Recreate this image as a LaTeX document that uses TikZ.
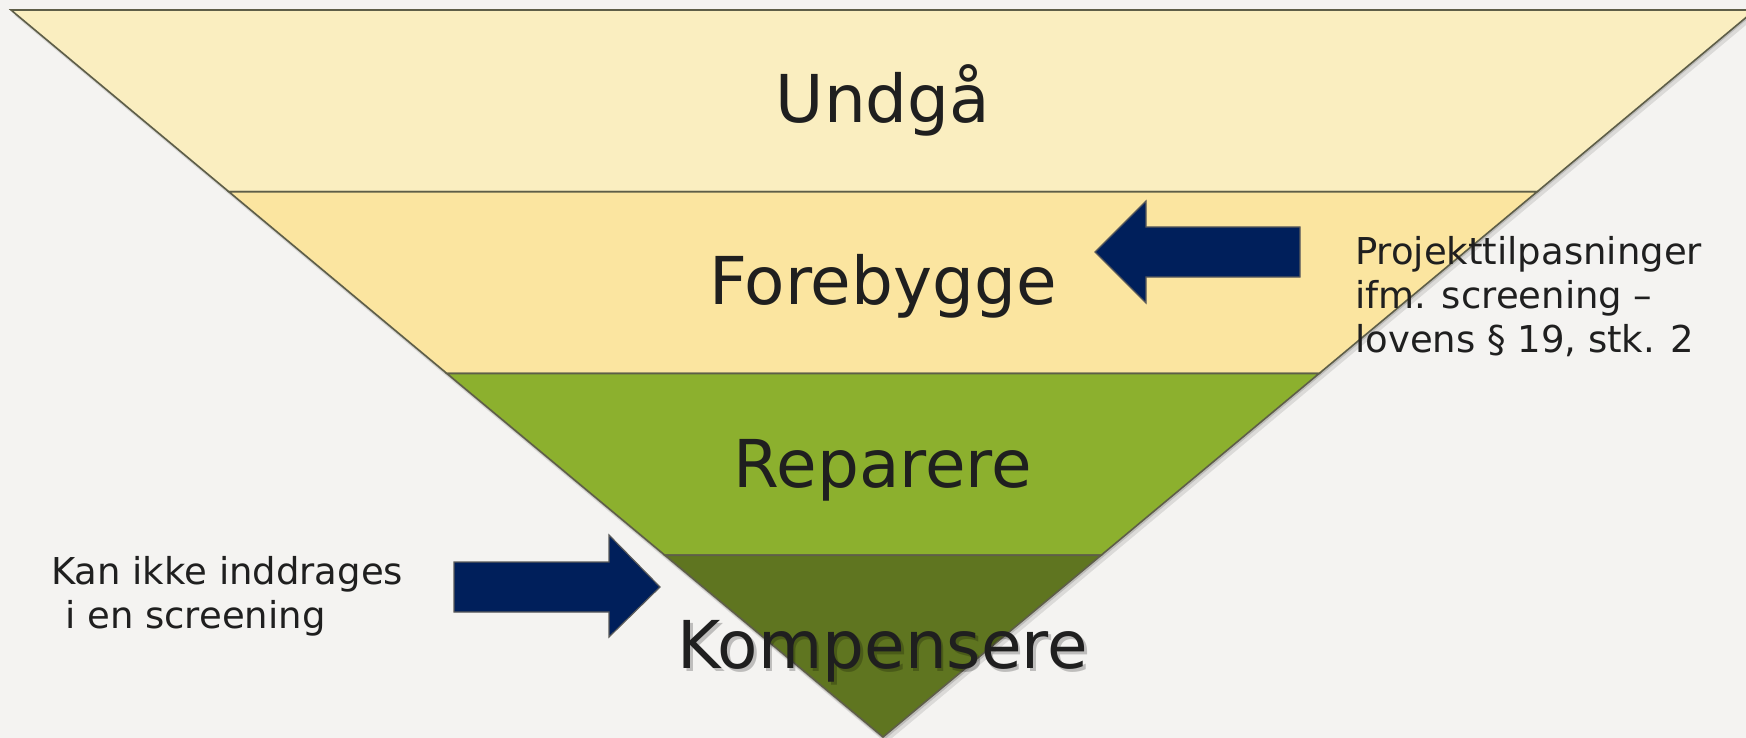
\documentclass[tikz,border=0pt]{standalone}
\usepackage{fontspec}
\setmainfont{DejaVu Sans}
\begin{document}
\begin{tikzpicture}[x=1pt,y=-1pt,
  band/.style={draw=bandline,line width=1.6pt,line join=miter},
  bigtext/.style={font=\fontsize{66}{79}\selectfont,text=txt,inner sep=0pt,anchor=base},
  smalltext/.style={font=\fontsize{37}{44}\selectfont,text=txt,inner sep=0pt,align=left},
  blockarrow/.style={fill=navy,draw=arrowline,line width=1.2pt,line join=miter}]
\definecolor{bg}{HTML}{F4F3F1}
\definecolor{bandA}{HTML}{FAEEC0}
\definecolor{bandB}{HTML}{FBE5A0}
\definecolor{bandC}{HTML}{8CB02E}
\definecolor{bandD}{HTML}{5F7520}
\definecolor{bandline}{HTML}{5E5E48}
\definecolor{navy}{HTML}{001F5B}
\definecolor{arrowline}{HTML}{5A5A5A}
\definecolor{txt}{HTML}{1F1F1F}
\fill[bg] (0,0) rectangle (1746,738);
\useasboundingbox (0,0) rectangle (1746,738);
\begin{scope}
\clip (0,0) rectangle (1746,738);
% shadow
\fill[black,opacity=0.10] (14,15) -- (1758,15) -- (886,743) -- cycle;
\fill[black,opacity=0.14] (12,12) -- (1756,12) -- (884,740) -- cycle;
% bands
\path[band,fill=bandA] (11,10) -- (1755,10) -- (1537.1,191.75) -- (228.9,191.75) -- cycle;
\path[band,fill=bandB] (228.9,191.75) -- (1537.1,191.75) -- (1319.1,373.5) -- (446.9,373.5) -- cycle;
\path[band,fill=bandC] (446.9,373.5) -- (1319.1,373.5) -- (1101.1,555.25) -- (664.9,555.25) -- cycle;
\path[band,fill=bandD] (664.9,555.25) -- (1101.1,555.25) -- (883,737) -- cycle;
\end{scope}
% labels
\node[bigtext] (undga) at (883,123) {Undgå};
\node[bigtext] (forebygge) at (883,305) {Forebygge};
\node[bigtext] (reparere) at (883,487) {Reparere};
\node[bigtext,text=black,opacity=0.22] (kompshadow) at (885.5,671.5) {Kompensere};
\node[bigtext] (kompensere) at (883,668) {Kompensere};
% arrows
\path[blockarrow] (1095,252) -- (1146,201) -- (1146,227) -- (1300,227) -- (1300,277) -- (1146,277) -- (1146,303) -- cycle;
\path[blockarrow] (660,587) -- (609,535) -- (609,562) -- (454,562) -- (454,612) -- (609,612) -- (609,637) -- cycle;
% side texts
\node[smalltext,anchor=base west] (proj) at (1355,352) {Projekttilpasninger\\ifm. screening –\\lovens § 19, stk. 2};
\node[smalltext,anchor=base west] (kan) at (51,628) {Kan ikke inddrages\\\hspace*{0.38em}i en screening};
\end{tikzpicture}
\end{document}
